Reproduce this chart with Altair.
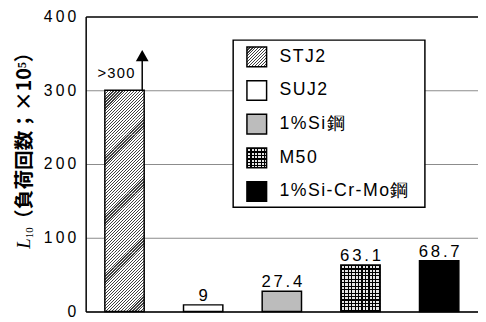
import altair as alt
import pandas as pd

# ---- data ----
cats = ["STJ2", "SUJ2", "1%Si鋼", "M50", "1%Si-Cr-Mo鋼"]
values = [300, 9, 27.4, 63.1, 68.7]
value_labels = [">300", "9", "27.4", "63.1", "68.7"]
y_ticks = [0, 100, 200, 300, 400]
ARROW_TOP = 347  # ">300" arrow tip (annotation)

# ---- style constants ----
PLOT_W, PLOT_H, YMAX = 399, 300, 400
BAR_W = 40
PAD_IN = 0.5
PAD_OUT = ((PLOT_W / (BAR_W / (1 - PAD_IN))) - 5 + PAD_IN) / 2
SW = 20  # legend swatch side
SEG = 20  # hatch tile height in data units (15 px)
FONT = "Liberation Sans"
THIN = "\u2009"
HAIR = "\u200a"


def spaced(s, sep):
    return sep.join(list(s))


def stripe_stops(length, period, dark_w, dark, light):
    stops = []
    n = int(length / period) + 1
    for i in range(n):
        a = min(i * period / length, 1)
        b = min((i * period + dark_w) / length, 1)
        c = min((i + 1) * period / length, 1)
        stops += [
            {"offset": round(a, 6), "color": dark},
            {"offset": round(b, 6), "color": dark},
            {"offset": round(b, 6), "color": light},
            {"offset": round(c, 6), "color": light},
        ]
    return stops


def diag(w, h):
    s = (w + h) / (w * w + h * h)
    return {"gradient": "linear", "x1": 0, "y1": 0, "x2": w * s, "y2": h * s,
            "stops": stripe_stops(w + h, 3.0, 1.2, "#404040", "#ffffff")}


def vstripes(w):
    return {"gradient": "linear", "x1": 0, "y1": 0, "x2": 1, "y2": 0,
            "stops": stripe_stops(w, 3.5, 1.2, "#000000", "#e6e6e6")}


def hstripes(h):
    return {"gradient": "linear", "x1": 0, "y1": 0, "x2": 0, "y2": 1,
            "stops": stripe_stops(h, 3.5, 1.2, "#000000", "rgba(0,0,0,0)")}


def px(v):
    return v / YMAX * PLOT_H


h_of = dict(zip(cats, [px(v) for v in values]))


def test(c):
    return "datum.cat === '%s'" % c


base_bar_fill = alt.value("black", condition=[
    {"test": test("STJ2"), "value": "#ffffff"},
    {"test": test("SUJ2"), "value": "#ffffff"},
    {"test": test("1%Si鋼"), "value": "#bcbcbc"},
    {"test": test("M50"), "value": vstripes(BAR_W)},
])
over_bar_fill = alt.value("rgba(0,0,0,0)", condition=[
    {"test": test("M50"), "value": hstripes(h_of["M50"])},
])
base_sw_fill = alt.value("black", condition=[
    {"test": test("STJ2"), "value": diag(SW, SW)},
    {"test": test("SUJ2"), "value": "#ffffff"},
    {"test": test("1%Si鋼"), "value": "#bcbcbc"},
    {"test": test("M50"), "value": vstripes(SW)},
])
over_sw_fill = alt.value("rgba(0,0,0,0)", condition=[
    {"test": test("M50"), "value": hstripes(SW)},
])

df = pd.DataFrame({
    "cat": cats,
    "value": values,
    "label": [spaced(l, HAIR) if l.startswith(">") else spaced(l, HAIR * 2) for l in value_labels],
})
df_first = df[df["cat"] == "STJ2"]
df_rest = df[df["cat"] != "STJ2"]

# hatch tiles covering the STJ2 bar (derived from its value)
n_seg = int(round(values[0] / SEG))
hatch_df = pd.DataFrame({
    "cat": [cats[0]] * n_seg,
    "y0": [values[0] - SEG * (k + 1) for k in range(n_seg)],
    "y1": [values[0] - SEG * k for k in range(n_seg)],
})

legend_df = pd.DataFrame({"cat": cats, "label": [spaced(c, HAIR) for c in cats]})
one = pd.DataFrame({"a": [0]})

X = alt.X("cat:N", sort=cats,
          scale=alt.Scale(domain=cats, paddingInner=PAD_IN, paddingOuter=PAD_OUT),
          axis=alt.Axis(labels=False, ticks=False, title=None, grid=False,
                        domainColor="black", domainWidth=1.5))
Y = alt.Y("value:Q",
          scale=alt.Scale(domain=[0, YMAX], nice=False, zero=True),
          axis=alt.Axis(values=y_ticks, ticks=False, title=None, grid=True,
                        domainColor="black", domainWidth=1.5,
                        gridColor={"condition": {"test": "datum.value === 400", "value": "black"},
                                   "value": "#8a8a8a"},
                        gridWidth={"condition": {"test": "datum.value === 400", "value": 1.5},
                                   "value": 1},
                        labelFont=FONT, labelFontSize=16, labelColor="black",
                        labelPadding=10,
                        labelExpr="join(split(datum.label, ''), '%s')" % THIN))

bars_base = alt.Chart(df).mark_bar(strokeWidth=0).encode(x=X, y=Y, fill=base_bar_fill)
bars_hatch = alt.Chart(hatch_df).mark_bar(strokeWidth=0).encode(
    x="cat:N", y="y0:Q", y2="y1:Q", fill=alt.value(diag(BAR_W, px(SEG))))
bars_over = alt.Chart(df).mark_bar(strokeWidth=0).encode(x="cat:N", y="value:Q", fill=over_bar_fill)
bars_line = alt.Chart(df).mark_bar(fill="transparent", stroke="black", strokeWidth=1.5).encode(
    x="cat:N", y="value:Q")

arrow = alt.Chart(df_first).mark_rule(color="black", strokeWidth=1.5, xOffset=18).encode(
    x="cat:N", y="value:Q", y2=alt.datum(ARROW_TOP))
head = alt.Chart(df_first).mark_point(shape="triangle-up", filled=True, size=169,
                                      color="black", opacity=1, xOffset=18).encode(
    x="cat:N", y=alt.datum(ARROW_TOP))
label_first = alt.Chart(df_first).mark_text(align="right", baseline="alphabetic", dx=10, dy=-12,
                                            font=FONT, fontSize=15, color="black").encode(
    x="cat:N", y="value:Q", text="label:N")
labels = alt.Chart(df_rest).mark_text(align="center", baseline="alphabetic", dy=-4,
                                      font=FONT, fontSize=17, color="black").encode(
    x="cat:N", y="value:Q", text="label:N")

main = alt.layer(bars_base, bars_hatch, bars_over, bars_line, arrow, head, label_first, labels)

LY = alt.Y("cat:N", sort=cats, scale=alt.Scale(type="point", domain=cats, range=[41, 178], padding=0),
           axis=None)
box = alt.Chart(one).mark_rect(fill="white", stroke="black", strokeWidth=1.5).encode(
    x=alt.value(150), x2=alt.value(345), y=alt.value(24), y2=alt.value(194))
sw_base = alt.Chart(legend_df).mark_square(size=SW * SW, strokeWidth=0, opacity=1).encode(
    x=alt.value(174), y=LY, fill=base_sw_fill)
sw_over = alt.Chart(legend_df).mark_square(size=SW * SW, strokeWidth=0, opacity=1).encode(
    x=alt.value(174), y=LY, fill=over_sw_fill)
sw_line = alt.Chart(legend_df).mark_square(size=SW * SW, filled=False, color="black",
                                           strokeWidth=1.5, opacity=1).encode(x=alt.value(174), y=LY)
leg_text = alt.Chart(legend_df).mark_text(align="left", baseline="middle", font=FONT,
                                          fontSize=18, color="black").encode(
    x=alt.value(197), y=LY, text="label:N")

title_cjk = alt.Chart(one).mark_text(angle=270, align="left", baseline="middle",
                                     font="Noto Sans CJK JP", fontSize=20, fontWeight="bold",
                                     color="black").encode(
    x=alt.value(-62), y=alt.value(216), text=alt.value("（負荷回数；×10⁵）"))
title_L = alt.Chart(one).mark_text(angle=270, align="center", baseline="middle",
                                   font="Liberation Serif", fontStyle="italic", fontSize=19,
                                   color="black").encode(
    x=alt.value(-63), y=alt.value(231), text=alt.value("L"))
title_sub = alt.Chart(one).mark_text(angle=270, align="center", baseline="middle",
                                     font="Liberation Serif", fontSize=11, color="black").encode(
    x=alt.value(-57), y=alt.value(220), text=alt.value("10"))

legend = alt.layer(box, sw_base, sw_over, sw_line, leg_text, title_cjk, title_L, title_sub)

chart = alt.layer(main, legend).resolve_scale(y="independent").properties(
    width=PLOT_W, height=PLOT_H,
    autosize=alt.AutoSizeParams(type="none"),
    padding={"left": 79, "top": 6, "right": 0, "bottom": 8},
).configure_view(strokeWidth=0)

chart.save("out.html", embed_options={"renderer": "svg", "actions": False})
